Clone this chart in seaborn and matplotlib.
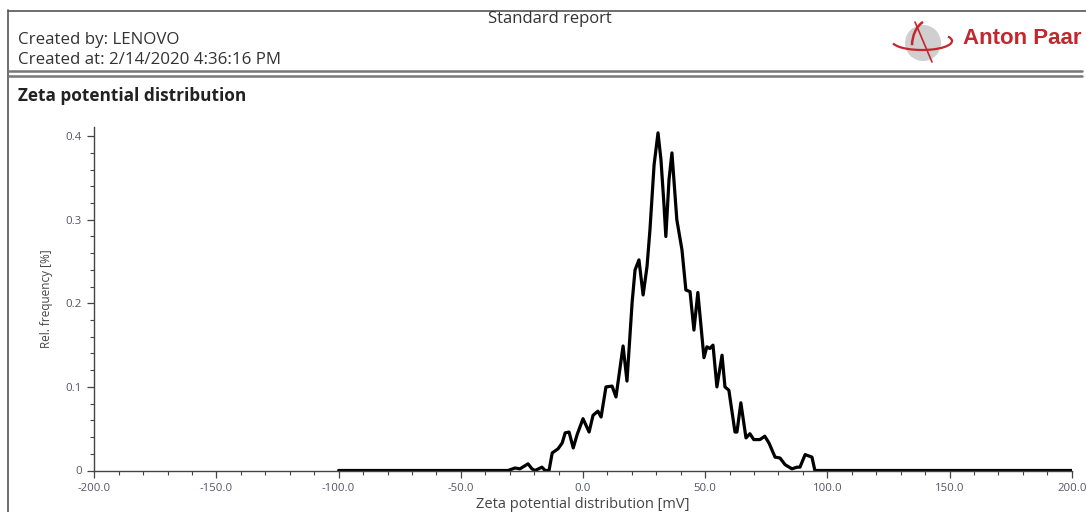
import numpy as np
import pandas as pd
import seaborn as sns
import matplotlib.pyplot as plt
from matplotlib.patches import Ellipse, Arc
from matplotlib.lines import Line2D
from matplotlib.ticker import MultipleLocator, FixedLocator, FixedFormatter

# zeta potential [mV] and relative frequency [%]
zeta_mv = [-100.0, -30.7, -27.8, -25.8, -22.5, -20.9, -19.6, -16.8, -15.5, -13.9,
           -12.6, -10.2, -8.5, -7.3, -5.7, -4.0, -2.4, 0.0, 2.5, 4.1,
           6.1, 7.4, 9.4, 11.9, 13.5, 16.4, 18.0, 20.1, 21.3, 22.9,
           24.6, 26.2, 27.4, 29.1, 30.7, 31.9, 33.1, 33.9, 35.2, 36.4,
           38.4, 40.5, 42.1, 43.8, 45.4, 47.0, 49.5, 50.7, 51.9, 53.2,
           54.8, 56.9, 58.1, 59.7, 62.2, 63.0, 64.6, 66.7, 68.3, 69.9,
           72.4, 74.4, 76.1, 78.6, 80.6, 82.7, 85.5, 87.6, 88.8, 90.9,
           93.7, 94.9, 200.0]
rel_freq = [0.0, 0.0, 0.003, 0.002, 0.008, 0.002, 0.0, 0.004, 0.0, 0.0,
            0.021, 0.026, 0.033, 0.045, 0.046, 0.027, 0.043, 0.062, 0.046, 0.066,
            0.071, 0.064, 0.100, 0.101, 0.088, 0.149, 0.107, 0.201, 0.240, 0.252,
            0.210, 0.244, 0.288, 0.366, 0.404, 0.372, 0.320, 0.280, 0.348, 0.380,
            0.300, 0.264, 0.216, 0.214, 0.168, 0.213, 0.135, 0.148, 0.146, 0.150,
            0.100, 0.138, 0.100, 0.096, 0.046, 0.046, 0.081, 0.039, 0.044, 0.037,
            0.037, 0.041, 0.033, 0.016, 0.015, 0.007, 0.002, 0.004, 0.004, 0.019,
            0.016, 0.0, 0.0]

x_ticks = [-200, -150, -100, -50, 0, 50, 100, 150, 200]
x_tick_labels = ['-200.0', '-150.0', '-100.0', '-50.0', '0.0', '50.0', '100.0', '150.0', '200.0']
y_ticks = [0, 0.1, 0.2, 0.3, 0.4]
y_tick_labels = ['0', '0.1', '0.2', '0.3', '0.4']

W, H = 1086, 512

sns.set_style('white')
plt.rcParams['font.family'] = ['Open Sans', 'DejaVu Sans']

df = pd.DataFrame({'zeta': zeta_mv, 'freq': rel_freq})

fig = plt.figure(figsize=(W / 100, H / 100), dpi=100)
ax = fig.add_axes([94.3 / W, 41.5 / H, (1071.7 - 94.3) / W, (470.5 - 127) / H])

sns.lineplot(data=df, x='zeta', y='freq', color='black', lw=2.3, ax=ax,
             sort=False, estimator=None)

ax.set_xlim(-200, 200)
ax.set_ylim(0, 0.411)
ax.xaxis.set_major_locator(FixedLocator(x_ticks))
ax.xaxis.set_major_formatter(FixedFormatter(x_tick_labels))
ax.xaxis.set_minor_locator(MultipleLocator(10))
ax.yaxis.set_major_locator(FixedLocator(y_ticks))
ax.yaxis.set_major_formatter(FixedFormatter(y_tick_labels))
ax.yaxis.set_minor_locator(MultipleLocator(0.02))

for s in ['top', 'right']:
    ax.spines[s].set_visible(False)
for s in ['left', 'bottom']:
    ax.spines[s].set_color('#444444')
    ax.spines[s].set_linewidth(1.0)

ax.tick_params(which='major', direction='out', length=5, width=0.9, color='#444444',
               labelsize=8.2, labelcolor='#555566', pad=4)
ax.tick_params(which='minor', direction='out', length=3, width=0.8, color='#444444')
ax.tick_params(axis='x', which='both', bottom=True)
ax.tick_params(axis='y', which='both', left=True)

ax.set_ylabel('Rel. frequency [%]', fontsize=8.5, color='#444444', labelpad=9)
ax.set_xlabel('')

# report header
def fx(px):
    return px / W

def fy(py):
    return 1 - py / H

fig.text(fx(583), fy(508), 'Zeta potential distribution [mV]', ha='center', va='baseline',
         fontsize=10.5, color='#444444')

fig.add_artist(Line2D([fx(8), fx(8)], [fy(10), 0], color='#555555', lw=1.2))
fig.add_artist(Line2D([fx(8), 1], [fy(10.5), fy(10.5)], color='#555555', lw=1.2))
fig.add_artist(Line2D([fx(8), fx(1082)], [fy(70.5), fy(70.5)], color='#777777', lw=1.8))
fig.add_artist(Line2D([fx(8), fx(1082)], [fy(76), fy(76)], color='#777777', lw=1.8))

fig.text(fx(550), fy(19), 'Standard report', ha='center', va='center', fontsize=12, color='#333333')
fig.text(fx(18), fy(40), 'Created by: LENOVO', ha='left', va='center', fontsize=12.2, color='#333333')
fig.text(fx(18), fy(60), 'Created at: 2/14/2020 4:36:16 PM', ha='left', va='center', fontsize=12.2, color='#333333')
fig.text(fx(18), fy(96), 'Zeta potential distribution', ha='left', va='center', fontsize=12.4,
         fontweight='bold', color='#222222')

# Anton Paar logo
fig.text(fx(963), fy(38), 'Anton Paar', ha='left', va='center', fontsize=16,
         fontweight='bold', color='#c4262e', family=['Liberation Sans', 'DejaVu Sans'])
fig.add_artist(Ellipse((fx(923), fy(43)), 36 / W, 36 / H, color='#cfcfcf', lw=0))
fig.add_artist(Arc((fx(922), fy(41)), 60 / W, 18 / H, theta1=190, theta2=20,
                   color='#c4262e', lw=1.6))
fig.add_artist(Arc((fx(932), fy(46)), 40 / W, 54 / H, theta1=100, theta2=175,
                   color='#c4262e', lw=1.8))
fig.add_artist(Line2D([fx(915), fx(932)], [fy(22), fy(62)], color='#c4262e', lw=1.2))

fig.savefig('out.png', dpi=100)
